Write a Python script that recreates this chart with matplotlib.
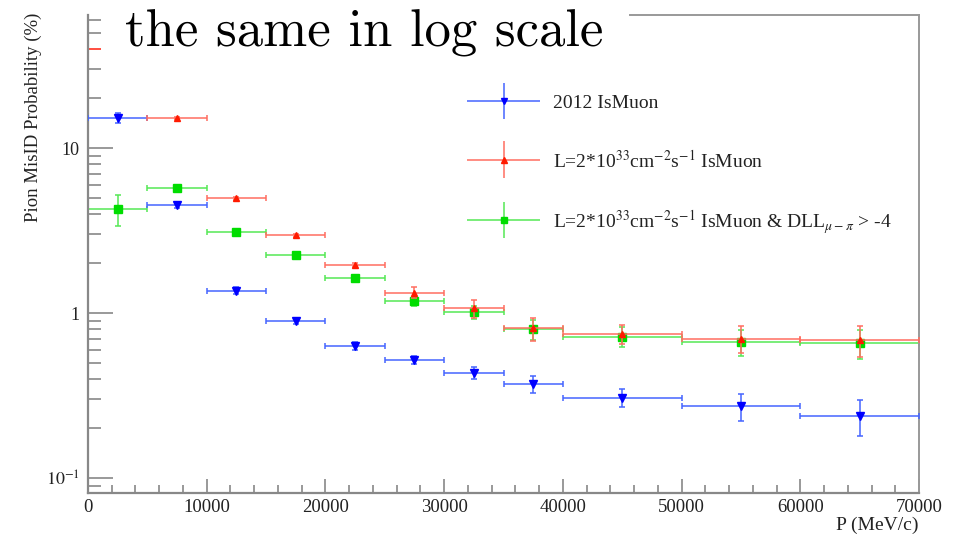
#!/usr/bin/env python3
"""
Pion misID probability vs momentum, log scale
"""
import numpy as np
import matplotlib
matplotlib.use("Agg")
import matplotlib.pyplot as plt
from matplotlib.lines import Line2D
from matplotlib.container import ErrorbarContainer
from matplotlib.legend_handler import HandlerErrorbar
from matplotlib.ticker import (FixedLocator, FixedFormatter, LogLocator,
                               NullFormatter, MultipleLocator)

plt.rcParams['font.family'] = ['Liberation Serif', 'DejaVu Serif']
plt.rcParams['mathtext.fontset'] = 'stix'

#--------------------------------------
# Data
#--------------------------------------
# momentum bins (MeV/c)
bin_edges = [0, 5000, 10000, 15000, 20000, 25000, 30000, 35000,
             40000, 50000, 60000, 70000]

# misID probability (%) per bin
misid_2012 = [15.2, 4.50, 1.37, 0.90, 0.634, 0.52, 0.436, 0.373, 0.308, 0.272, 0.239]
err_2012   = [1.0, 0.15, 0.06, 0.04, 0.035, 0.03, 0.035, 0.045, 0.04, 0.05, 0.06]

misid_lumi = [np.nan, 15.2, 4.95, 2.97, 1.95, 1.33, 1.07, 0.81, 0.75, 0.70, 0.69]
err_lumi   = [np.nan, 0.3, 0.1, 0.06, 0.05, 0.1, 0.13, 0.13, 0.1, 0.13, 0.15]

misid_dll = [4.30, 5.69, 3.11, 2.25, 1.64, 1.18, 1.01, 0.80, 0.72, 0.67, 0.66]
err_dll   = [0.93, 0.2, 0.1, 0.08, 0.06, 0.07, 0.09, 0.11, 0.1, 0.12, 0.13]

labels = ['2012 IsMuon',
          r'L=2*10$^{33}$cm$^{-2}$s$^{-1}$ IsMuon',
          r'L=2*10$^{33}$cm$^{-2}$s$^{-1}$ IsMuon & DLL$_{\mu-\pi}$ > -4']

edges = np.array(bin_edges, dtype=float)
centers = 0.5 * (edges[1:] + edges[:-1])
half_w = 0.5 * (edges[1:] - edges[:-1])


class CrossHandler(HandlerErrorbar):
    """Errorbar legend entry drawn as a plain cross, no caps"""
    def create_artists(self, *args, **kwargs):
        artists = super().create_artists(*args, **kwargs)
        for a in artists:
            if isinstance(a, Line2D) and a.get_marker() in ('|', '_'):
                a.set_visible(False)
        return artists


#--------------------------------------
# Plot
#--------------------------------------
fig = plt.figure(figsize=(9.59, 5.35), dpi=100)
ax = fig.add_axes([88/959, 1 - 493/535, (919 - 88)/959, (493 - 15)/535])

style = dict(linestyle='none', capsize=2, capthick=1.1, elinewidth=1.1)
eb_dll = ax.errorbar(centers, misid_dll, xerr=half_w, yerr=err_dll, fmt='s',
                     ms=5.5, color='#00dd00', ecolor='#55e855', zorder=2, **style)
eb_2012 = ax.errorbar(centers, misid_2012, xerr=half_w, yerr=err_2012, fmt='v',
                      ms=6, color='#0000ff', ecolor='#4565ff', zorder=3, **style)
eb_lumi = ax.errorbar(centers, misid_lumi, xerr=half_w, yerr=err_lumi, fmt='^',
                      ms=5, color='#ff1a00', ecolor='#ff6e60', zorder=4, **style)

# axes
ax.set_xlim(bin_edges[0], bin_edges[-1])
ax.set_yscale('log')
ax.set_ylim(0.0813, 64)

ax.xaxis.set_major_locator(MultipleLocator(10000))
ax.xaxis.set_minor_locator(MultipleLocator(2000))
ax.yaxis.set_major_locator(FixedLocator([0.1, 1, 10]))
ax.yaxis.set_major_formatter(FixedFormatter([r'$10^{-1}$', '1', '10']))
ax.yaxis.set_minor_locator(LogLocator(subs=np.arange(2, 10)))
ax.yaxis.set_minor_formatter(NullFormatter())

ax.tick_params(axis='both', which='both', direction='in', color='#888888',
               width=1.2, labelcolor='#222222')
ax.tick_params(axis='y', which='major', length=18, pad=6, labelsize=13)
ax.tick_params(axis='y', which='minor', length=9.5)
ax.tick_params(axis='x', which='major', length=10, pad=4, labelsize=13.5)
ax.tick_params(axis='x', which='minor', length=5.5)

for side in ['left', 'bottom']:
    ax.spines[side].set_color('#888888')
    ax.spines[side].set_linewidth(1.6)
for side in ['top', 'right']:
    ax.spines[side].set_color('#999999')
    ax.spines[side].set_linewidth(1.4)

ax.set_ylabel('Pion MisID Probability (%)', fontsize=13.5, color='#222222',
              va='center')
ax.yaxis.set_label_coords(-0.066, 0.785)
ax.set_xlabel('P (MeV/c)', fontsize=14, color='#222222', ha='right', va='center')
ax.xaxis.set_label_coords(1.0, -0.067)

# legend
leg = ax.legend([eb_2012, eb_lumi, eb_dll], labels,
                handler_map={ErrorbarContainer: CrossHandler(xerr_size=1.88, yerr_size=0.93)},
                loc='upper left', bbox_to_anchor=(467/959, 1 - 93/535),
                bbox_transform=fig.transFigure, frameon=False, borderpad=0,
                borderaxespad=0, handlelength=3.76, handleheight=1.0,
                handletextpad=0.67, labelspacing=1.9, fontsize=14,
                markerscale=0.8)
for t in leg.get_texts():
    t.set_color('#222222')

# slide title
title = fig.text(125/959, 1 - 47/535, 'the same in log scale', fontsize=38,
                 family='cmr10', va='baseline', ha='left', color='black')

fig.canvas.draw()

# red minor tick at 40 (tick lines are drawn as markers)
for tick in ax.yaxis.get_minor_ticks():
    if np.isclose(tick.get_loc(), 40):
        tick.tick1line.set_markeredgecolor('#ff3020')

# top frame stops short of the title
bb = title.get_window_extent()
x0 = ax.transData.inverted().transform((bb.x1 + 27, 0))[0]
ax.spines['top'].set_bounds(x0, bin_edges[-1])

fig.savefig('out.png', dpi=100)
